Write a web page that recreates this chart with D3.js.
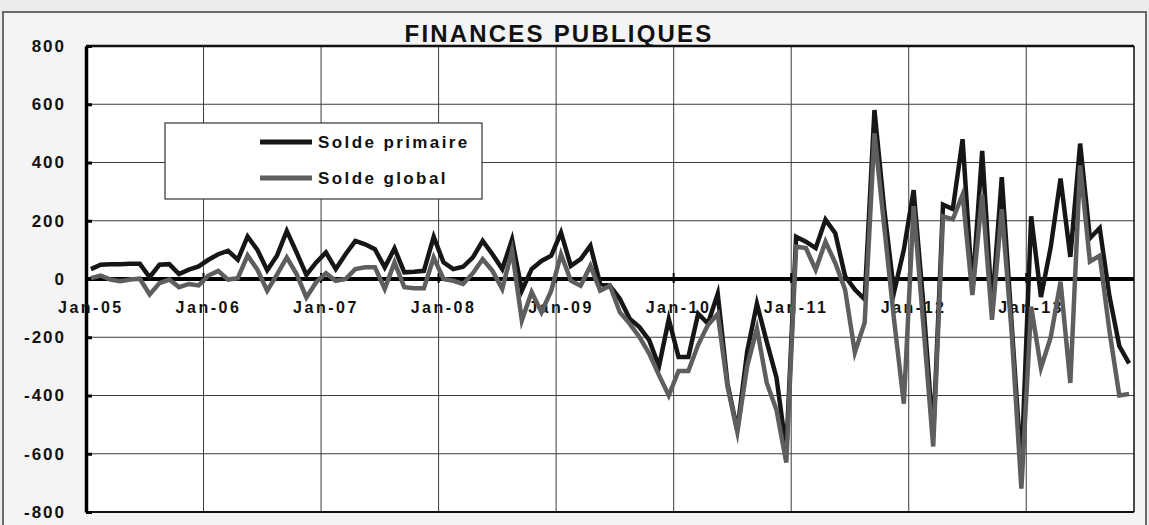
<!DOCTYPE html>
<html>
<head>
<meta charset="utf-8">
<script src="https://cdn.jsdelivr.net/npm/d3@7"></script>
<style>
  body { margin: 0; background: #ececec; }
  svg { display: block; }
  text { font-family: "Liberation Sans", Arial, sans-serif; font-weight: bold; fill: #111; }
</style>
</head>
<body>
<svg id="chart" width="1149" height="525"></svg>
<script>
// Monthly public-finance balances, Jan 2005 – Nov 2013
const years = ["05", "06", "07", "08", "09", "10", "11", "12", "13"];
const monthNames = ["Jan","Feb","Mar","Apr","May","Jun","Jul","Aug","Sep","Oct","Nov","Dec"];
const lastMonthCount = 107;

const tickLabels = ["Jan-05","Jan-06","Jan-07","Jan-08","Jan-09","Jan-10","Jan-11","Jan-12","Jan-13"];
const yTicks = [-800, -600, -400, -200, 0, 200, 400, 600, 800];

const soldePrimaire = [
  34, 49, 51, 51, 52, 52, 6, 49, 51, 17, 32, 43,
  66, 85, 97, 66, 146, 100, 30, 80, 165, 91, 14, 57,
  91, 34, 85, 131, 119, 102, 40, 105, 23, 25, 28, 145,
  57, 34, 42, 74, 131, 85, 34, 136, -40, 34, 62, 80,
  159, 45, 68, 114, -17, -23, -68, -136, -165, -210, -300, -138,
  -268, -268, -119, -153, -51, -360, -520, -250, -85, -215, -339, -590,
  145, 128, 106, 204, 157, 10, -36, -70, 580, 240, -45, 100,
  305, -90, -540, 255, 240, 480, -40, 440, -100, 350, -150, -650,
  215, -62, 110, 345, 76, 465, 140, 175, -60, -230, -290
];

const soldeGlobal = [
  3, 12, -2, -8, -2, 1, -53, -14, -2, -28, -17, -22,
  12, 28, -2, 3, 81, 32, -40, 15, 74, 17, -63, -11,
  20, -6, 0, 34, 40, 40, -34, 57, -28, -32, -32, 74,
  0, -6, -17, 20, 68, 28, -34, 97, -142, -45, -114, -40,
  85, -6, -23, 45, -40, -23, -114, -153, -199, -256, -330, -400,
  -316, -316, -226, -158, -120, -370, -525, -300, -170, -356, -450, -630,
  111, 106, 32, 128, 55, -36, -252, -150, 500, 180, -139, -428,
  250, -160, -575, 215, 205, 290, -55, 290, -140, 240, -180, -720,
  -95, -305, -200, -9, -357, 390, 60, 80, -180, -400, -395
];

const categories = [];
years.forEach(yy => monthNames.forEach(m => categories.push(m + "-" + yy)));
categories.length = lastMonthCount;

const series = [
  { name: "Solde primaire", values: soldePrimaire, color: "#161616" },
  { name: "Solde global",   values: soldeGlobal,   color: "#5e5e5e" }
];

const svg = d3.select("#chart");
const W = 1149, H = 525;
const plot = { left: 86, right: 1134, top: 46, bottom: 512 };

const x = d3.scaleBand().domain(categories).range([plot.left, plot.right]).padding(0);
const y = d3.scaleLinear().domain([-800, 800]).range([plot.bottom, plot.top]);
const cx = c => x(c) + x.bandwidth() / 2;

// chart frame
svg.append("rect").attr("x", 0).attr("y", 0).attr("width", W).attr("height", H).attr("fill", "#ececec");
svg.append("path")
  .attr("d", `M3,${H} V12 H1146 V${H}`)
  .attr("fill", "#f4f4f4").attr("stroke", "#6a6a6a").attr("stroke-width", 2);

// plot area
svg.append("rect")
  .attr("x", plot.left).attr("y", plot.top)
  .attr("width", plot.right - plot.left).attr("height", plot.bottom - plot.top)
  .attr("fill", "#ffffff");

// gridlines
const grid = svg.append("g").attr("stroke", "#3c3c3c").attr("stroke-width", 1);
grid.selectAll("line.h").data(yTicks.filter(v => v !== 0 && Math.abs(v) !== 800)).join("line")
  .attr("x1", plot.left).attr("x2", plot.right)
  .attr("y1", d => y(d)).attr("y2", d => y(d));
grid.selectAll("line.v").data(tickLabels.slice(1)).join("line")
  .attr("x1", d => x(d)).attr("x2", d => x(d))
  .attr("y1", plot.top).attr("y2", plot.bottom);

// plot border
svg.append("line").attr("x1", plot.left).attr("x2", plot.right).attr("y1", plot.top).attr("y2", plot.top)
  .attr("stroke", "#111").attr("stroke-width", 2.5);
svg.append("line").attr("x1", plot.left).attr("x2", plot.right).attr("y1", plot.bottom).attr("y2", plot.bottom)
  .attr("stroke", "#111").attr("stroke-width", 2);
svg.append("line").attr("x1", plot.right).attr("x2", plot.right).attr("y1", plot.top).attr("y2", plot.bottom)
  .attr("stroke", "#111").attr("stroke-width", 1.5);

// y axis
const yAxis = svg.append("g")
  .attr("transform", `translate(${plot.left},0)`)
  .call(d3.axisLeft(y).tickValues(yTicks).tickFormat(d => String(d))
    .tickSizeInner(-6).tickSizeOuter(0).tickPadding(20));
yAxis.select(".domain").attr("stroke", "#000").attr("stroke-width", 3.5);
yAxis.selectAll(".tick line").attr("stroke", "#000").attr("stroke-width", 3);
yAxis.selectAll("text").style("font-size", "17px").style("letter-spacing", "2px").attr("fill", "#111");

// zero line with category ticks
svg.append("line").attr("x1", plot.left).attr("x2", plot.right).attr("y1", y(0)).attr("y2", y(0))
  .attr("stroke", "#000").attr("stroke-width", 4);
svg.append("g").selectAll("line").data(tickLabels.slice(1)).join("line")
  .attr("x1", d => x(d)).attr("x2", d => x(d))
  .attr("y1", y(0) - 6).attr("y2", y(0) + 4)
  .attr("stroke", "#000").attr("stroke-width", 2);

const xAxis = svg.append("g")
  .attr("transform", `translate(0,${y(0)})`)
  .call(d3.axisBottom(x).tickValues(tickLabels).tickSize(0).tickPadding(23));
xAxis.select(".domain").remove();
xAxis.selectAll("text").style("font-size", "16px").style("letter-spacing", "2.5px").attr("fill", "#111");

// series lines
const line = d3.line().x((d, i) => cx(categories[i])).y(d => y(d));
svg.append("g").selectAll("path").data(series).join("path")
  .attr("d", d => line(d.values))
  .attr("fill", "none")
  .attr("stroke", d => d.color)
  .attr("stroke-width", 4.5)
  .attr("stroke-linejoin", "miter")
  .attr("stroke-miterlimit", 6);

// title
svg.append("text").attr("x", 559).attr("y", 42).attr("text-anchor", "middle")
  .style("font-size", "24px").style("letter-spacing", "2.2px").text("FINANCES PUBLIQUES");

// legend
const legend = svg.append("g");
legend.append("rect").attr("x", 165).attr("y", 123).attr("width", 317).attr("height", 76)
  .attr("fill", "#fff").attr("stroke", "#333").attr("stroke-width", 1.2);
series.forEach((s, i) => {
  const ly = 142 + i * 36;
  legend.append("line").attr("x1", 260).attr("x2", 312).attr("y1", ly).attr("y2", ly)
    .attr("stroke", s.color).attr("stroke-width", 5);
  legend.append("text").attr("x", 318).attr("y", ly).attr("dy", "0.35em")
    .style("font-size", "17px").style("letter-spacing", "2.4px").text(s.name);
});
</script>
</body>
</html>
